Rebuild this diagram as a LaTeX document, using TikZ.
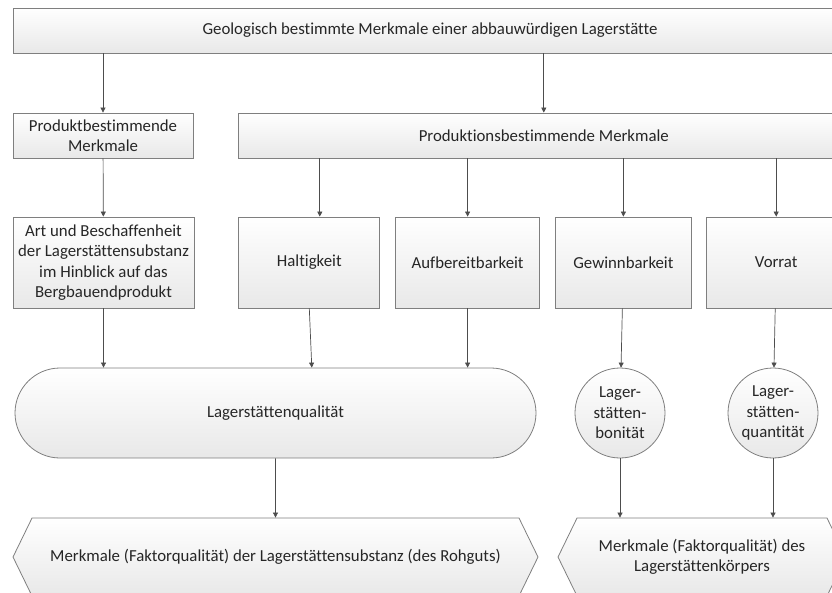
\documentclass[tikz,border=0pt]{standalone}
\usepackage{fontspec}
\setmainfont{Carlito}[Ligatures=NoCommon]
\usepackage{tikz}
\usetikzlibrary{arrows.meta, positioning, shapes.misc, shapes.symbols}
\definecolor{rim}{HTML}{7F7F7F}
\definecolor{ink}{HTML}{262626}
\definecolor{wire}{HTML}{4D4D4D}

\begin{document}
\begin{tikzpicture}[
    x=1pt, y=-1pt,
    font=\fontsize{16.8}{20.5}\selectfont,
    box/.style={draw=rim, line width=0.8pt, top color=white, bottom color=black!9, text=ink, inner sep=2pt, align=center},
    blk/.style={box, minimum height=45pt},
    feat/.style={box, minimum height=91pt},
    pill/.style={box, rounded rectangle, minimum height=90pt},
    rund/.style={box, circle, minimum size=90pt, inner sep=0pt},
    hex/.style={box, signal, signal to=west and east, signal pointer angle=128, minimum height=78pt},
    ar/.style={-{Triangle[length=5pt, width=5pt]}, draw=wire, line width=0.7pt}
  ]
    \useasboundingbox (0,0) rectangle (832,592);
    \clip (0,0) rectangle (832,592);
    % top level
    \node[blk, minimum width=834pt] (geo) at (430,30.5) {Geologisch bestimmte Merkmale einer abbauwürdigen Lagerstätte};
    \node[blk, minimum width=180pt] (prodb) at (103,135.5) {Produktbestimmende\\Merkmale};
    \node[blk, minimum width=610pt, right=45pt of prodb] (prodt) {Produktionsbestimmende Merkmale};
    % features
    \node[feat, minimum width=181pt] (art) at (103.5,262.5) {Art und Beschaffenheit\\der Lagerstättensubstanz\\im Hinblick auf das\\Bergbauendprodukt};
    \node[feat, minimum width=141pt, right=44pt of art] (halt) {Haltigkeit};
    \node[feat, minimum width=144pt, right=15pt of halt] (aufb) {Aufbereitbarkeit};
    \node[feat, minimum width=136pt, right=15pt of aufb] (gew) {Gewinnbarkeit};
    \node[feat, minimum width=140pt, right=14pt of gew] (vorr) {Vorrat};
    % qualities
    \node[pill, minimum width=525pt] (qual) at (275.5,413) {Lagerstättenqualität};
    \node[rund] (bon) at (620,413) {Lager-\\stätten-\\bonität};
    \node[rund] (quan) at (773,413) {Lager-\\stätten-\\quantität};
    % results
    \node[hex, minimum width=525pt] (mfq) at (275.5,557) {Merkmale (Faktorqualität) der Lagerstättensubstanz (des Rohguts)};
    \node[hex, minimum width=288pt] (mfk) at (702,557) {Merkmale (Faktorqualität) des\\Lagerstättenkörpers};
    % connectors
    \draw[ar] (geo.south -| prodb) -- (prodb);
    \draw[ar] (geo.south -| prodt) -- (prodt);
    \draw[ar] (prodb) -- (art);
    \draw[ar] ([xshift=10.5pt]halt.north |- prodt.south) -- ([xshift=10.5pt]halt.north);
    \draw[ar] (prodt.south -| aufb) -- (aufb);
    \draw[ar] (prodt.south -| gew) -- (gew);
    \draw[ar] (prodt.south -| vorr) -- (vorr);
    \draw[ar] (art) -- (art |- qual.north);
    \draw[ar] (halt.south) -- ([xshift=2.5pt]halt.south |- qual.north);
    \draw[ar] (aufb) -- (aufb |- qual.north);
    \draw[ar] (gew) -- (bon);
    \draw[ar] (vorr) -- (quan);
    \draw[ar] (qual) -- (mfq);
    \draw[ar] (bon) -- (bon |- mfk.north);
    \draw[ar] (quan) -- (quan |- mfk.north);
\end{tikzpicture}
\end{document}
